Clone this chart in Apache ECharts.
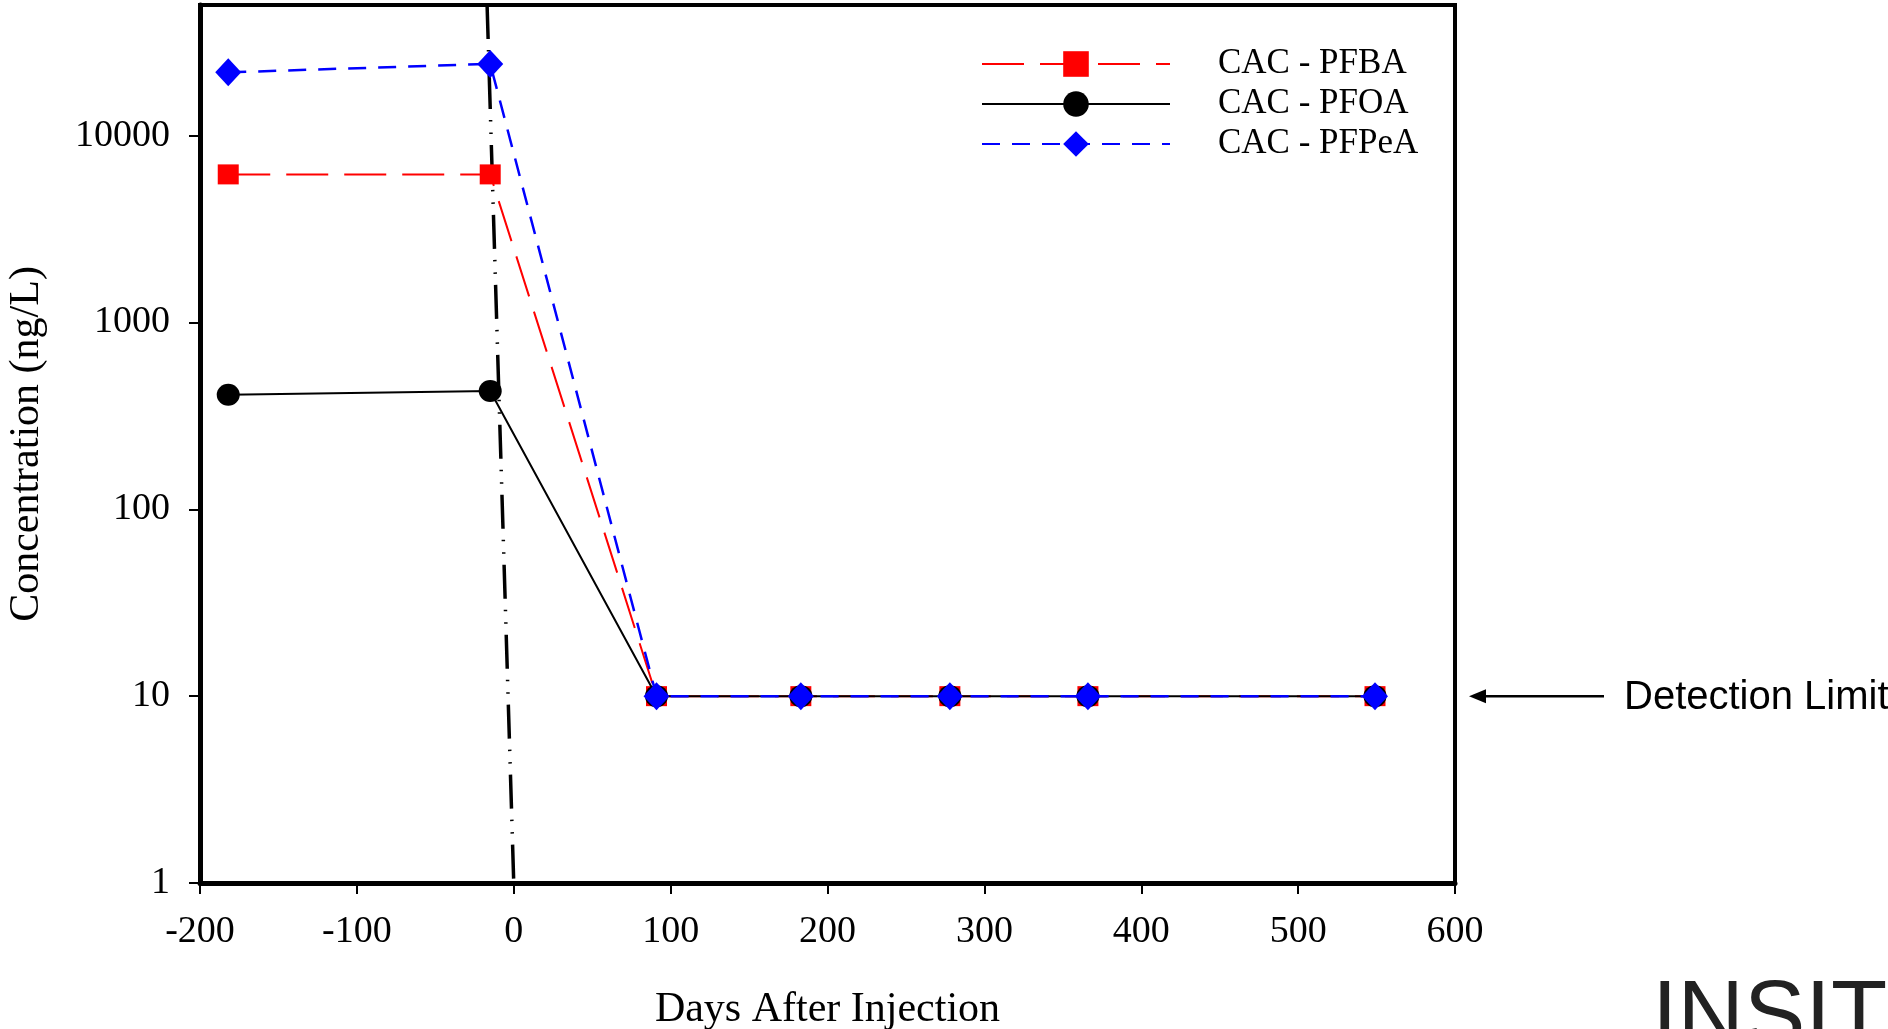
<!DOCTYPE html>
<html>
<head>
<meta charset="utf-8">
<script src="https://cdn.jsdelivr.net/npm/echarts@6/dist/echarts.min.js"></script>
<style>
html,body{margin:0;padding:0;background:#fff;}
#chart{width:1888px;height:1029px;}
</style>
</head>
<body>
<div id="chart"></div>
<script>
// ---- data ----
const days = [-182, -15, 91, 183, 278, 366, 549];
const pfba = [6200, 6200, 10, 10, 10, 10, 10];
const pfoa = [410, 430, 10, 10, 10, 10, 10];
const pfpea = [21800, 24200, 10, 10, 10, 10, 10];
const seriesNames = ['CAC - PFBA', 'CAC - PFOA', 'CAC - PFPeA'];
const injectionLineX = [-17, 0];
const injectionLineY = [50000, 1];
const yTicks = [1, 10, 100, 1000, 10000];
const xMin = -200, xMax = 600, xStep = 100;
const yMin = 1, yMax = 50000;
const detectionLimit = 10;
const detectionLabel = 'Detection Limit';
const xTitle = 'Days After Injection';
const yTitle = 'Concentration (ng/L)';
const logoText = 'INSITE';

function pairs(xs, ys){ return xs.map((x,i)=>[x, ys[i]]); }

const serif = 'Liberation Serif, Times New Roman, serif';
const chart = echarts.init(document.getElementById('chart'), null, {renderer:'canvas'});

const option = {
  animation: false,
  backgroundColor: '#fff',
  grid: {left: 200, right: 433, top: 5, bottom: 146, containLabel: false, outerBoundsMode: 'none',
    show: true, borderColor: '#000', borderWidth: 4, backgroundColor: 'transparent'},
  legend: {
    data: seriesNames,
    orient: 'vertical',
    left: 976, top: 41,
    itemWidth: 188, itemHeight: 32, itemGap: 4,
    textStyle: {fontFamily: serif, fontSize: 35, color: '#000', lineHeight: 36, padding: [0,0,0,43]},
    selectedMode: false
  },
  xAxis: {
    type: 'value', min: xMin, max: xMax, interval: xStep,
    name: xTitle, nameLocation: 'middle', nameGap: 106,
    nameTextStyle: {fontFamily: serif, fontSize: 42, color: '#000'},
    axisLine: {show: true, onZero: false, lineStyle: {color: '#000', width: 5}},
    axisTick: {show: true, inside: false, length: 11, lineStyle: {color: '#000', width: 2}},
    axisLabel: {fontFamily: serif, fontSize: 38, color: '#000', margin: 30},
    splitLine: {show: false}
  },
  yAxis: {
    type: 'log', logBase: 10, min: yMin, max: yMax,
    name: yTitle, nameLocation: 'middle', nameGap: 152, nameRotate: 90,
    nameTextStyle: {fontFamily: serif, fontSize: 42, color: '#000'},
    axisLine: {show: true, onZero: false, lineStyle: {color: '#000', width: 5}},
    axisTick: {show: true, inside: false, length: 11, lineStyle: {color: '#000', width: 2}, customValues: yTicks},
    axisLabel: {fontFamily: serif, fontSize: 38, color: '#000', margin: 30, customValues: yTicks,
      formatter: v => String(Math.round(v))},
    splitLine: {show: false}, minorTick: {show: false}
  },
  series: [
    {
      name: 'injection', type: 'line', data: pairs(injectionLineX, injectionLineY),
      symbol: 'none', silent: true, z: 1,
      lineStyle: {color: '#000', width: 3.5, type: [34, 11, 1.5, 11, 1.5, 11]}
    },
    {
      name: seriesNames[0], type: 'line', data: pairs(days, pfba),
      symbol: 'rect', symbolSize: [21, 20], z: 2,
      itemStyle: {color: '#ff0000', borderWidth: 0},
      lineStyle: {color: '#ff0000', width: 2, type: [42, 16]}
    },
    {
      name: seriesNames[1], type: 'line', data: pairs(days, pfoa),
      symbol: 'circle', symbolSize: [23, 22], z: 3,
      itemStyle: {color: '#000', borderWidth: 0},
      lineStyle: {color: '#000', width: 2}
    },
    {
      name: seriesNames[2], type: 'line', data: pairs(days, pfpea),
      symbol: 'diamond', symbolSize: [26, 28], z: 4,
      itemStyle: {color: '#0000ff', borderWidth: 0},
      lineStyle: {color: '#0000ff', width: 2.5, type: [18, 12]}
    }
  ]
};
chart.setOption(option);

const yDL = chart.convertToPixel({yAxisIndex: 0}, detectionLimit);
chart.setOption({
  graphic: [
    {type: 'line', shape: {x1: 1604, y1: yDL, x2: 1482, y2: yDL}, style: {stroke: '#000', lineWidth: 2.5}},
    {type: 'polygon', shape: {points: [[1469, yDL], [1486, yDL - 7], [1486, yDL + 7]]}, style: {fill: '#000'}},
    {type: 'text', x: 1624, y: yDL + 2, style: {text: detectionLabel, font: '40px "Liberation Sans", Arial, sans-serif', fill: '#000', align: 'left', verticalAlign: 'middle'}},
    {type: 'text', x: 1652, y: 1020, style: {text: logoText, font: '92px "Liberation Sans", Arial, sans-serif', fill: '#222', align: 'left', verticalAlign: 'middle'}}
  ]
});
</script>
</body>
</html>
